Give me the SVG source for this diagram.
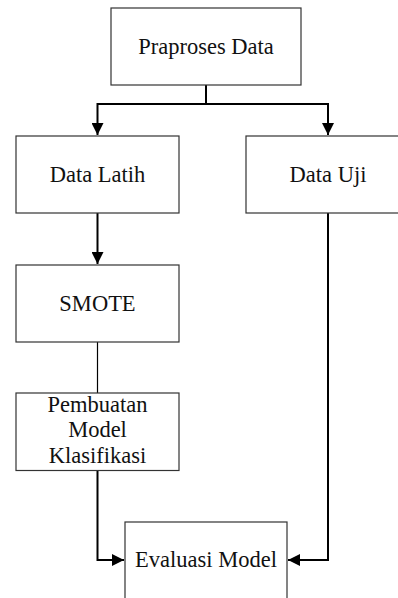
<svg xmlns="http://www.w3.org/2000/svg" width="398" height="598" viewBox="0 0 398 598">
<style>
.box{fill:#fff;stroke:#333;stroke-width:1.2}
.lbl{font-family:"Liberation Serif","Times New Roman",serif;font-size:22.5px;fill:#111;text-anchor:middle}
.con{fill:none;stroke:#000;stroke-width:2}
</style>
<defs>
<marker id="ah" markerWidth="12" markerHeight="12" viewBox="0 0 12 12" refX="12" refY="6" orient="auto" markerUnits="userSpaceOnUse">
<path d="M0,0 L12,6 L0,12 Z" fill="#000"/>
</marker>
</defs>
<rect width="398" height="598" fill="#fff"/>
<g id="connectors">
<polyline class="con" points="206,85 206,104 97.5,104 97.5,135" marker-end="url(#ah)"/>
<polyline class="con" points="206,104 328,104 328,135" marker-end="url(#ah)"/>
<polyline class="con" points="97.5,213 97.5,264" marker-end="url(#ah)"/>
<line class="con" x1="97.5" y1="342" x2="97.5" y2="393" style="stroke-width:1.2"/>
<polyline class="con" points="97.5,471 97.5,560 124,560" marker-end="url(#ah)"/>
<polyline class="con" points="328,213 328,560 288,560" marker-end="url(#ah)"/>
</g>
<g id="praproses">
<rect class="box" x="111" y="8" width="190" height="77"/>
<text class="lbl" x="206" y="54">Praproses Data</text>
</g>
<g id="datalatih">
<rect class="box" x="16" y="136" width="163" height="77"/>
<text class="lbl" x="97.5" y="182">Data Latih</text>
</g>
<g id="datauji">
<rect class="box" x="246" y="136" width="160" height="77"/>
<text class="lbl" x="328" y="182">Data Uji</text>
</g>
<g id="smote">
<rect class="box" x="16" y="265" width="163" height="77"/>
<text class="lbl" x="97.5" y="311">SMOTE</text>
</g>
<g id="pembuatan">
<rect class="box" x="16" y="393" width="163" height="77.5"/>
<text class="lbl" x="97.5" y="411.5">Pembuatan</text>
<text class="lbl" x="97.5" y="437">Model</text>
<text class="lbl" x="97.5" y="463">Klasifikasi</text>
</g>
<g id="evaluasi">
<rect class="box" x="125" y="522" width="162" height="90"/>
<text class="lbl" x="206" y="567">Evaluasi Model</text>
</g>
</svg>
